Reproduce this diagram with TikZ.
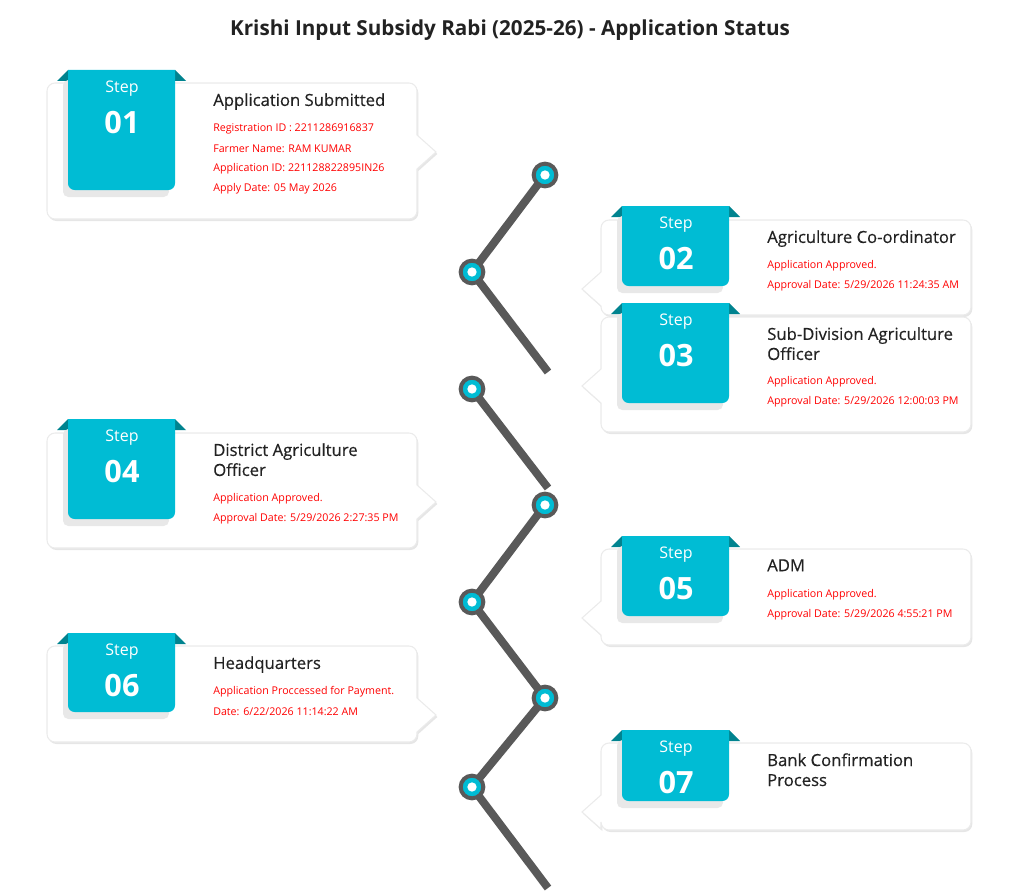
\documentclass[tikz,border=0pt]{standalone}
\usepackage{fontspec}
\setmainfont{Open Sans}
\usetikzlibrary{shadows}
\definecolor{stepteal}{HTML}{00BCD4}
\definecolor{foldteal}{HTML}{00838F}
\definecolor{linegray}{HTML}{595959}
\definecolor{titlegray}{HTML}{222222}

\tikzset{
  card/.style={fill=white, draw=black!8, line width=0.8pt, drop shadow={shadow xshift=1pt, shadow yshift=-1.5pt, opacity=0.2}},
  stepbox/.style={fill=stepteal},
  dot/.style={circle, draw=linegray, line width=3pt, fill=stepteal, minimum size=17pt, inner sep=0pt},
  zig/.style={draw=linegray, line width=6pt},
  cardtitle/.style={anchor=north west, inner sep=0pt, align=left, text=titlegray, font=\fontsize{12.5}{15}\selectfont\addfontfeatures{FakeBold=0.4}},
  cardline/.style={anchor=west, inner sep=0pt, text=red, font=\fontsize{8}{9.5}\selectfont},
}

% card: #1 left x, #2 top y, #3 height, #4 box top, #5 box bottom, #6 number, #7 title, #8 side (1 left, 0 right)
\newcommand\stepcard[8]{
  \ifnum#8=1
    \path[card] [rounded corners=6] (#1,#2+20) -- (#1,#2) -- (#1+370,#2) [sharp corners] -- (#1+370,#2+52) -- (#1+389,#2+69) -- (#1+370,#2+86) [rounded corners=6] -- (#1+370,#2+#3) -- (#1,#2+#3) -- cycle;
  \else
    \path[card] [rounded corners=6] (#1+20,#2) -- (#1+370,#2) -- (#1+370,#2+#3) -- (#1,#2+#3) [sharp corners] -- (#1,#2+86) -- (#1-19,#2+69) -- (#1,#2+52) [rounded corners=6] -- (#1,#2) -- cycle;
  \fi
  \fill[foldteal] (#1+10,#4+11) -- (#1+21,#4) -- (#1+21,#4+11) -- cycle;
  \fill[foldteal] (#1+139,#4+11) -- (#1+128,#4) -- (#1+128,#4+11) -- cycle;
  \fill[black!9, rounded corners=4] (#1+16,#4+10) rectangle (#1+122,#5+7);
  \fill[stepbox] [rounded corners=5] (#1+21,#4+20) -- (#1+21,#5) -- (#1+128,#5) -- (#1+128,#4+20) [sharp corners] -- (#1+128,#4) -- (#1+21,#4) -- cycle;
  \node[text=white, font=\fontsize{12}{14}\selectfont] (s#6) at (#1+75,#4+19) {Step};
  \node[text=white, font=\fontsize{23}{26}\selectfont\bfseries] (n#6) at (#1+75,#4+53) {#6};
  \node[cardtitle] (t#6) at (#1+166,#2+10) {#7};
}

\begin{document}
\begin{tikzpicture}[x=0.75pt, y=-0.75pt]
\useasboundingbox (0,0) rectangle (1025,892);
\node[font=\fontsize{15.5}{18}\selectfont\bfseries, text=titlegray] (head) at (510,30) {Krishi Input Subsidy Rabi (2025-26) - Application Status};

% zigzag line
\draw[zig] (545,175) -- (472,272) -- (548,372);
\draw[zig] (472,389) -- (548,488);
\draw[zig] (545,505) -- (472,602) -- (545,698) -- (472,787) -- (548,888);
\foreach \px/\py [count=\k] in {545/175, 472/272, 472/389, 545/505, 472/602, 545/698, 472/787} {
  \node[dot] (d\k) at (\px,\py) {};
  \fill[white] (d\k) circle (3.5pt);
}

% left cards
\stepcard{47}{83}{136}{70}{190}{01}{Application Submitted}{1}
\stepcard{47}{433}{115}{419}{519}{04}{District Agriculture\\Officer}{1}
\stepcard{47}{646}{96}{633}{712}{06}{Headquarters}{1}

% right cards
\stepcard{601}{220}{95}{206}{286}{02}{Agriculture Co-ordinator}{0}
\stepcard{601}{317}{115}{303}{403}{03}{Sub-Division Agriculture\\Officer}{0}
\stepcard{601}{549}{96}{536}{616}{05}{ADM}{0}
\stepcard{601}{743}{87}{730}{801}{07}{Bank Confirmation\\Process}{0}

% card texts
\node[cardline] (r1a) at (213,129) {Registration ID : 2211286916837};
\node[cardline] (r1b) at (213,149) {Farmer Name: RAM KUMAR};
\node[cardline] (r1c) at (213,169) {Application ID: 221128822895IN26};
\node[cardline] (r1d) at (213,189) {Apply Date: 05 May 2026};
\node[cardline] (r2a) at (767,266) {Application Approved.};
\node[cardline] (r2b) at (767,286) {Approval Date: 5/29/2026 11:24:35 AM};
\node[cardline] (r3a) at (767,382) {Application Approved.};
\node[cardline] (r3b) at (767,402) {Approval Date: 5/29/2026 12:00:03 PM};
\node[cardline] (r4a) at (213,499) {Application Approved.};
\node[cardline] (r4b) at (213,519) {Approval Date: 5/29/2026 2:27:35 PM};
\node[cardline] (r5a) at (767,595) {Application Approved.};
\node[cardline] (r5b) at (767,615) {Approval Date: 5/29/2026 4:55:21 PM};
\node[cardline] (r6a) at (213,692) {Application Proccessed for Payment.};
\node[cardline] (r6b) at (213,712) {Date: 6/22/2026 11:14:22 AM};
\end{tikzpicture}
\end{document}
